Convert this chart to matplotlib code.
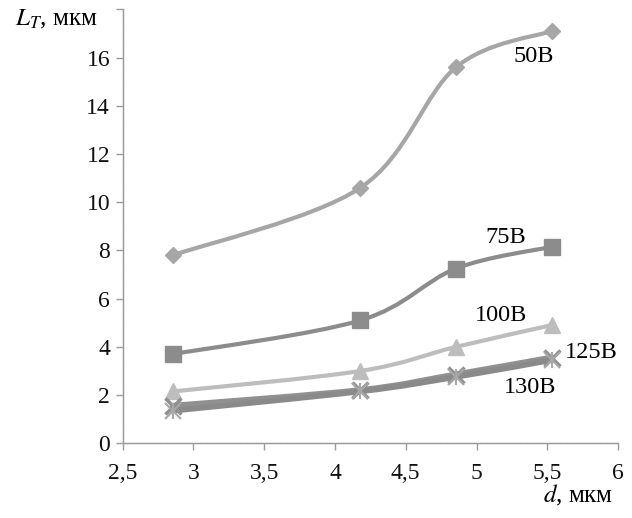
import matplotlib.pyplot as plt
import numpy as np
from matplotlib.path import Path
from matplotlib.patches import PathPatch
from matplotlib.ticker import FuncFormatter

plt.rcParams['font.family'] = 'serif'
plt.rcParams['font.serif'] = ['Liberation Serif', 'DejaVu Serif']
plt.rcParams['mathtext.fontset'] = 'stix'

# data
d = [2.855, 4.18, 4.855, 5.53]
l_50 = [7.8, 10.6, 15.6, 17.1]
l_75 = [3.7, 5.1, 7.25, 8.15]
l_100 = [2.15, 3.0, 4.0, 4.9]
l_125 = [1.55, 2.2, 2.85, 3.55]
l_130 = [1.35, 2.15, 2.75, 3.45]
series_names = ['50В', '75В', '100В', '125В', '130В']


def smooth_path(x, y):
    # Excel-like smoothed line: Catmull-Rom segments as cubic Bezier
    p = np.column_stack([x, y]).astype(float)
    ext = np.vstack([p[0], p, p[-1]])
    verts = [p[0]]
    codes = [Path.MOVETO]
    for i in range(1, len(ext) - 2):
        p0, p1, p2, p3 = ext[i - 1], ext[i], ext[i + 1], ext[i + 2]
        verts += [p1 + (p2 - p0) / 6, p2 - (p3 - p1) / 6, p2]
        codes += [Path.CURVE4] * 3
    return Path(verts, codes)


fig = plt.figure(figsize=(6.32, 5.18), dpi=100)
ax = fig.add_axes([0.194, 0.1442, 0.784, 0.8378])

styles = [
    (l_50, '#a6a6a6', 'D', 8, 3.0),
    (l_75, '#8c8c8c', 's', 11, 3.0),
    (l_100, '#bdbdbd', '^', 11, 3.0),
    (l_125, '#909090', 'x', 11, 4.5),
    (l_130, '#8a8a8a', '*', 0, 4.0),
]
for vals, col, mk, ms, lw in styles:
    ax.add_patch(PathPatch(smooth_path(d, vals), fill=False, ec=col, lw=lw,
                           capstyle='round', zorder=2))
    if mk == 'x':
        ax.plot(d, vals, ls='none', marker='x', ms=ms, mew=2.5, color=col, zorder=3)
    elif mk == '*':
        ax.plot(d, vals, ls='none', marker='x', ms=11, mew=1.5, color='#a8a8a8', zorder=3)
        ax.plot(d, vals, ls='none', marker='|', ms=11, mew=1.5, color='#a8a8a8', zorder=3)
    else:
        ax.plot(d, vals, ls='none', marker=mk, ms=ms, color=col, mec=col, zorder=3)

ax.set_xlim(2.5, 6)
ax.set_ylim(0, 18)
ax.set_xticks(np.arange(2.5, 6.01, 0.5))
ax.set_yticks(np.arange(0, 18.1, 2))

fmt = FuncFormatter(lambda v, pos: ('%g' % v).replace('.', ','))
ax.xaxis.set_major_formatter(fmt)
ax.yaxis.set_major_formatter(FuncFormatter(lambda v, pos: '' if v >= 18 else '%g' % v))

for s in ['top', 'right']:
    ax.spines[s].set_visible(False)
for s in ['left', 'bottom']:
    ax.spines[s].set_color('#9a9a9a')
    ax.spines[s].set_linestyle((0, (1, 0.6)))
    ax.spines[s].set_linewidth(1.0)
ax.tick_params(axis='both', colors='#9a9a9a', labelcolor='#111111',
               labelsize=17, length=5, width=1.0, direction='out')
ax.tick_params(axis='x', pad=9)
ax.tick_params(axis='y', pad=4)

# series labels
fs = 17.5
ax.text(5.26, 16.03, series_names[0], fontsize=fs, ha='left', va='center')
ax.text(5.06, 8.55, series_names[1], fontsize=fs, ha='left', va='center')
ax.text(4.99, 5.31, series_names[2], fontsize=fs, ha='left', va='center')
ax.text(5.625, 3.78, series_names[3], fontsize=fs, ha='left', va='center')
ax.text(5.195, 2.33, series_names[4], fontsize=fs, ha='left', va='center')

fig.text(0.024, 0.962, r'$L_T$, мкм', fontsize=18, ha='left', va='center')
fig.text(0.97, 0.02, r'$d$, мкм', fontsize=18, ha='right', va='bottom')

fig.savefig('out.png', dpi=100)
